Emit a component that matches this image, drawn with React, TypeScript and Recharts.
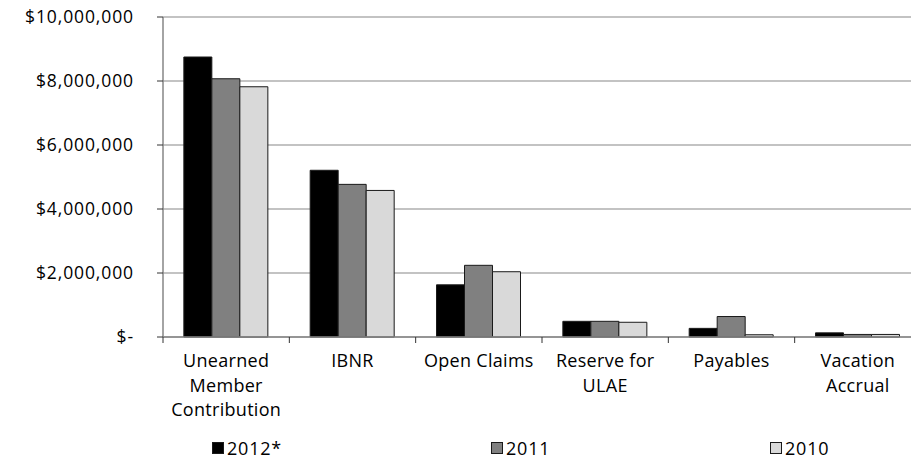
import { BarChart, Bar, XAxis, YAxis, CartesianGrid, Legend } from "recharts";

const categories = [
  "Unearned Member Contribution",
  "IBNR",
  "Open Claims",
  "Reserve for ULAE",
  "Payables",
  "Vacation Accrual",
];
const values2012 = [8750000, 5210000, 1630000, 490000, 270000, 130000];
const values2011 = [8070000, 4770000, 2240000, 490000, 640000, 80000];
const values2010 = [7820000, 4580000, 2040000, 460000, 70000, 80000];
const seriesNames = ["2012*", "2011", "2010"];
const seriesColors = ["#000000", "#808080", "#d9d9d9"];
const yTicks = [0, 2000000, 4000000, 6000000, 8000000, 10000000];

const data = categories.map((name, i) => ({
  name,
  y2012: values2012[i],
  y2011: values2011[i],
  y2010: values2010[i],
}));

const font = "'Open Sans', sans-serif";

// simple greedy word wrap for the category labels
function wrap(label: string, max = 11) {
  const lines: string[] = [];
  let cur = "";
  for (const w of label.split(" ")) {
    const next = cur ? cur + " " + w : w;
    if (next.length > max && cur) {
      lines.push(cur);
      cur = w;
    } else cur = next;
  }
  if (cur) lines.push(cur);
  return lines;
}

function CategoryTick(props: any) {
  const { x, y, payload, index, visibleTicksCount } = props;
  const half = payload?.offset ?? 0;
  const axisY = y - 8;
  const lines = wrap(String(payload.value));
  return (
    <g>
      <line x1={x - half} x2={x - half} y1={axisY} y2={axisY + 6} stroke="#333" />
      {index === visibleTicksCount - 1 && (
        <line x1={x + half} x2={x + half} y1={axisY} y2={axisY + 6} stroke="#333" />
      )}
      {lines.map((ln, i) => (
        <text
          key={i}
          x={x}
          y={y + 22 + i * 24.5}
          textAnchor="middle"
          fill="#000"
          fontSize={18}
          fontFamily={font}
          letterSpacing={0.3}
        >
          {ln}
        </text>
      ))}
    </g>
  );
}

function LegendContent() {
  return (
    <div style={{ position: "relative", height: 16, fontFamily: font }}>
      {seriesNames.map((name, i) => (
        <div
          key={name}
          style={{
            position: "absolute",
            left: 212 + i * 279,
            top: 0,
            height: 16,
            display: "flex",
            alignItems: "center",
            fontSize: 18,
            letterSpacing: 0.8,
            color: "#000",
            whiteSpace: "nowrap",
          }}
        >
          <span
            style={{
              display: "inline-block",
              width: 10,
              height: 10,
              background: seriesColors[i],
              border: "1px solid #1a1a1a",
              marginRight: 3,
            }}
          />
          {name}
        </div>
      ))}
    </div>
  );
}

const money = (v: number) => (v === 0 ? "$-" : "$" + v.toLocaleString("en-US"));

export default function App() {
  return (
    <div
      style={{
        position: "absolute",
        left: 0,
        top: 0,
        width: 911,
        height: 473,
        overflow: "hidden",
        background: "#fff",
      }}
    >
      <BarChart
        width={925}
        height={473}
        data={data}
        margin={{ top: 17, right: 4, bottom: 10, left: 0 }}
        barCategoryGap="16.5%"
        barGap={0}
      >
        <CartesianGrid vertical={false} stroke="#888" strokeWidth={1.2} />
        <XAxis
          dataKey="name"
          height={110}
          interval={0}
          tickSize={6}
          tickMargin={2}
          tickLine={false}
          axisLine={{ stroke: "#868686", strokeWidth: 1.5 }}
          tick={<CategoryTick />}
        />
        <YAxis
          width={163}
          domain={[0, 10000000]}
          ticks={yTicks}
          tickFormatter={money}
          tickSize={6}
          tickMargin={23}
          interval={0}
          axisLine={{ stroke: "#868686", strokeWidth: 1.5 }}
          tickLine={{ stroke: "#333" }}
          tick={{ fill: "#000", fontSize: 17.5, fontFamily: font, letterSpacing: 0.9 }}
        />
        <Legend
          verticalAlign="bottom"
          wrapperStyle={{ bottom: 17, left: 0 }}
          content={<LegendContent />}
        />
        <Bar dataKey="y2012" name={seriesNames[0]} fill={seriesColors[0]} stroke="#1a1a1a" strokeWidth={1} isAnimationActive={false} />
        <Bar dataKey="y2011" name={seriesNames[1]} fill={seriesColors[1]} stroke="#1a1a1a" strokeWidth={1} isAnimationActive={false} />
        <Bar dataKey="y2010" name={seriesNames[2]} fill={seriesColors[2]} stroke="#1a1a1a" strokeWidth={1} isAnimationActive={false} />
      </BarChart>
    </div>
  );
}
